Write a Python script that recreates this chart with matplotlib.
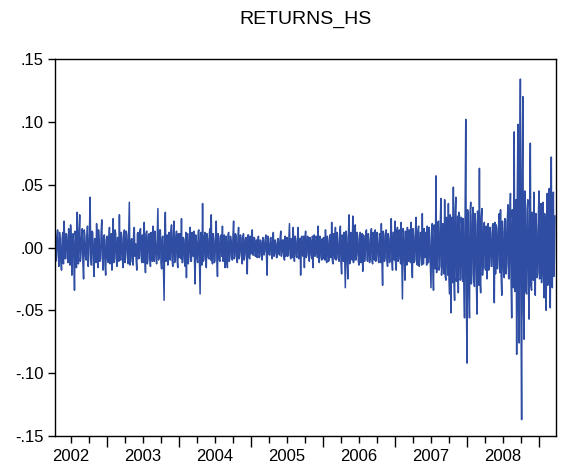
import numpy as np
import matplotlib
matplotlib.use("Agg")
import matplotlib.pyplot as plt
from matplotlib.ticker import FuncFormatter, FixedLocator
import matplotlib.transforms as mtransforms

plt.rcParams['font.family'] = ['Liberation Sans', 'DejaVu Sans']

TITLE = "RETURNS_HS"
YEAR_LABELS = ["2002", "2003", "2004", "2005", "2006", "2007", "2008"]

# returns in percent, read per year segment (first obs ~ Apr 2002, last ~ Mar 2009)
# "a" lists: the visible extremes; "b" lists: the in-between observations of the band
a2002 = [2.7, -0.8, 1.4, -1.5, 0.6, -1.8, 1.2, 2.1, -0.9, 1.0, -1.2, 0.4, 1.8, -2.2, 1.1, -3.4, 0.8, 2.8, -1.3, 2.6,
         -0.5, 1.5, -2.5, 0.9, -1.0, 1.7, -0.6, 4.0, -1.4, 1.2, -2.3, 0.7, 1.9, -1.6, 0.5, -0.9, 2.2, -1.8, 1.0, -2.2]
b2002 = [-1.1, 0.9, -0.5, 1.2, -1.0, 0.7, -1.3, 0.4, 1.1, -0.8, 1.5, -1.4, 0.6, 1.0, -0.9, 1.3, -1.6, 0.5, 1.2, -1.1,
         0.9, -1.3, 1.4, -0.7, 0.8, -1.5, 1.1, -0.6, 1.3, -1.0, 0.7, -1.2, 0.5, 1.4, -1.1, 1.2, -0.8, 0.9, -1.4, 0.6]
a2003 = [0.9, -1.2, 1.6, -0.7, -1.8, 2.3, -0.9, 1.1, -1.5, 0.6, 2.6, -1.0, 0.8, -1.6, 1.4, -0.5, 1.0, -1.3, 3.6, -1.1,
         0.7, -1.4, 1.6, 0.3, -1.8, 1.2, -0.8, 1.5, -1.2, 0.6, 2.0, -2.0, 1.3, -0.9, 1.1, -1.5, 0.8, 1.7, -1.1, 0.5,
         -1.3, 3.1, -0.8, 1.4, -1.7, 0.9, -4.2, 2.8, -0.6, -1.4, 1.2, -1.0, 1.8, -1.5, 2.1, -0.9, 1.3, -1.6]
b2003 = [-1.0, 0.7, -1.3, 1.1, 0.6, -1.2, 1.4, -0.9, 0.8, -1.1, -0.7, 1.2, -1.0, 0.9, -1.2, 1.3, -0.8, 1.0, -1.4, 0.6,
         -1.1, 1.2, -0.7, -1.0, 1.1, -0.9, 1.3, -0.6, 1.0, -1.2, -0.8, 1.1, -1.3, 1.0, -0.7, 1.2, -1.1, -0.6, 1.3, -0.9,
         1.1, -1.0, 1.4, -1.2, 0.8, -1.5, 1.2, -1.1, 1.0, 0.7, -0.9, 1.3, -1.0, 1.1, -1.2, 0.8, -1.0, 1.1]
a2004 = [-0.8, 1.0, 2.3, -1.2, 0.6, -1.5, -2.4, 1.1, -0.7, 1.6, -1.1, 0.8, 1.3, -2.9, 0.5, -1.2, 1.4, -3.7, 0.9, 3.5,
         -1.0, 1.2, -1.6, 0.7, -0.9, 1.5, 2.6, -1.3, 0.6, -1.0, 2.1, -2.3, 0.8, -1.1, 1.0, 1.7, -0.6, -1.6, 0.9, -1.6,
         1.2, -0.8, 0.5, -1.0, 2.1, -0.7, 0.9, -1.2, 1.6, -0.5, 0.7, -1.3, 1.1, -0.6, 0.8, -2.1, 1.0, -0.9]
b2004 = [1.1, -0.9, -1.2, 0.8, -1.0, 1.2, 1.0, -1.3, 0.9, -1.1, 1.2, -0.7, -1.1, 1.0, -0.8, 1.3, -1.0, 1.2, -1.4, -1.1,
         0.9, -1.0, 1.1, -0.8, 1.2, -1.0, -0.9, 1.1, -1.2, 1.0, -0.8, 1.1, -1.0, 0.9, -0.7, -1.1, 1.0, 0.8, -0.9, 1.0,
         -1.1, 0.9, -0.8, 1.0, -0.9, 1.1, -1.0, 0.8, -0.9, 1.0, -0.8, 0.9, -1.0, 0.7, -0.9, 1.0, -0.8, 0.9]
a2005 = [-0.5, 1.4, -0.6, 0.7, -0.4, -0.8, 0.9, -0.7, 0.5, -1.0, 0.6, -0.3, 1.0, -2.2, 0.4, -0.6, 0.8, -0.9, 1.2, -0.5,
         0.3, -0.8, 0.7, -0.6, 1.3, -0.4, 0.6, -1.0, -0.7, 0.8, -0.5, 1.9, -0.9, 0.4, 1.6, -1.1, 0.6, -0.8, 1.6, -0.4,
         -2.2, 0.9, -0.7, -1.6, 1.3, -0.6, 0.8, -1.1, 0.5, -0.9, -1.6, 1.0, -0.5, 0.7, 1.7, -1.2, 0.6, -1.0]
b2005 = [0.7, -0.6, 0.8, -0.7, 0.6, 0.5, -0.8, 0.6, -0.7, 0.8, -0.6, 0.7, -0.8, 0.9, -0.5, 0.7, -0.6, 0.8, -0.7, 0.6,
         -0.8, 0.7, -0.5, 0.8, -0.7, 0.6, -0.8, 0.9, 0.5, -0.7, 0.8, -0.6, 0.7, -0.8, -0.6, 0.9, -0.7, 0.8, -0.9, 0.7,
         0.8, -0.6, 0.9, 0.7, -0.8, 0.9, -0.7, 0.8, -0.6, 0.9, 0.8, -0.7, 0.9, -0.8, -0.7, 0.9, -0.8, 0.7]
a2006 = [-0.9, 0.6, 1.4, -1.2, 0.5, -0.8, 1.0, 2.0, -1.3, 0.7, 1.6, -0.9, 0.4, -1.1, 1.7, -2.1, 0.8, 1.2, -3.2, 0.9,
         -2.5, 2.6, -0.7, 1.1, 2.5, -1.0, 1.8, -0.6, 0.7, -1.4, 1.2, -0.8, -1.9, 0.9, -0.5, 1.4, -1.1, 0.6, -0.9, 1.5,
         -1.3, 0.8, 1.4, -0.7, 0.5, -1.2, 0.9, 1.9, -3.0, 1.0, -0.8, 1.4, -1.5, 0.7, -1.1, 2.3, -1.8, 1.2]
b2006 = [0.8, -1.0, -0.9, 0.9, -1.1, 1.0, -0.8, -1.0, 1.1, -0.9, -1.0, 1.2, -0.9, 1.1, -1.2, 1.0, -1.1, -1.0, 1.3, -1.2,
         1.1, -1.3, 1.2, -1.0, -1.2, 1.1, -1.0, 1.2, -1.1, 1.0, -1.2, 1.1, 1.0, -1.1, 1.2, -1.0, 1.1, -1.2, 1.0, -1.1,
         1.2, -1.0, -1.1, 1.2, -1.0, 1.1, -1.2, -1.0, 1.3, -1.1, 1.2, -1.0, 1.1, -1.2, 1.3, -1.1, 1.2, -1.0]
a2007 = [2.1, -1.8, 1.6, -0.9, 0.7, 2.0, -4.1, 1.2, -2.6, 0.8, 1.6, -1.1, 0.6, 2.0, -2.4, 0.9, -1.0, 2.4, -1.4, 1.7,
         -0.8, 1.1, 2.7, -1.3, -0.8, 0.9, 1.7, -1.2, 0.5, -3.2, 1.9, -3.4, 1.3, 5.7, -1.5, 2.1, -1.5, 3.9, -1.2, 0.8,
         3.8, -2.6, 1.4, 3.5, -3.7, -5.2, 2.2, 4.8, -4.2, 4.0, -1.9, -3.6, 2.5, -2.5, 1.2, 2.3, -5.6, 10.2]
b2007 = [-1.2, 1.3, -1.1, 1.4, -1.3, -1.2, 1.5, -1.0, 1.3, -1.4, -1.1, 1.4, -1.2, -1.3, 1.5, -1.2, 1.4, -1.1, 1.3, -1.5,
         1.2, -1.4, -1.3, 1.5, 1.2, -1.4, -1.2, 1.6, -1.5, 1.4, -1.6, 1.8, -1.7, -2.0, 1.9, -1.8, 2.0, -2.2, 1.9, -2.1,
         -2.3, 2.4, -2.2, -2.5, 2.6, 2.4, -2.8, -2.6, 2.9, -2.7, 2.5, 2.8, -2.6, 2.4, -2.7, -3.0, 3.2, -4.0]
a2008 = [-9.2, 2.4, -5.6, 3.6, -2.0, 3.2, -3.1, 1.8, -5.3, 2.2, 6.3, -3.6, 3.1, -1.4, 2.0, -1.8, -2.5, 1.9, -1.2, 1.1,
         -1.5, 1.9, -4.4, -2.1, 1.5, -1.0, 2.7, 3.0, -3.8, 1.2, -2.4, 2.2, -1.3, 3.4, -2.5, 4.3, -5.6, 2.0, 9.2, -2.9,
         -8.5, 9.8, -7.6, 13.4, -13.7, 12.0, -7.3, 3.5, -3.7, 3.8, -5.7, 8.3, -3.4, 2.2, 4.4, -3.8, 1.5, -2.0]
b2008 = [3.0, -3.2, 2.8, -2.9, 2.6, -2.5, 2.7, -2.4, 2.9, -3.0, -2.5, 2.4, -2.2, 1.8, -1.6, 1.7, 1.5, -1.8, 1.6, -1.5,
         1.7, -1.9, 2.0, 1.8, -1.7, 1.9, -2.0, -2.2, 2.1, -1.9, 2.3, -2.1, 2.2, -2.4, 2.5, -2.6, 3.0, -3.2, -3.5, 3.8,
         4.0, -4.5, 5.0, -5.5, 6.0, -5.0, 4.5, -3.5, 3.0, -3.2, 3.3, -3.0, 2.8, -2.6, -2.5, 2.7, -2.4, 2.6]
a2009 = [4.5, -2.4, 3.5, -1.5, 3.6, -4.0, 1.2, -5.0, 4.3, -2.2, 4.7, -4.8, 7.2, -3.2, 4.4, -1.0]
b2009 = [-2.5, 2.2, -2.8, 2.5, -2.0, 2.7, -2.6, 2.4, -3.0, 2.8, -2.5, 3.0, -2.7, 2.6, -2.3, 2.5]

segments = [(2002.278, 2003.0, a2002, b2002), (2003.0, 2004.0, a2003, b2003), (2004.0, 2005.0, a2004, b2004),
            (2005.0, 2006.0, a2005, b2005), (2006.0, 2007.0, a2006, b2006), (2007.0, 2008.0, a2007, b2007),
            (2008.0, 2009.0, a2008, b2008), (2009.0, 2009.228, a2009, b2009)]

xs, ys = [], []
for start, end, va, vb in segments:
    vals = np.column_stack((va, vb)).ravel()
    xs.append(np.linspace(start, end, len(vals), endpoint=False))
    ys.append(vals / 100.0)
x = np.concatenate(xs)
y = np.concatenate(ys)

W, H = 564, 467
fig = plt.figure(figsize=(W / 100, H / 100), dpi=100)
ax = fig.add_axes([55 / W, 1 - 436 / H, (556 - 55) / W, (436 - 59) / H])
ax.plot(x, y, color='#2F4EA3', lw=1.1)

ax.set_xlim(2002.278, 2009.236)
ax.set_ylim(-0.15, 0.15)
ax.set_yticks([-0.15, -0.10, -0.05, 0.0, 0.05, 0.10, 0.15])
ax.yaxis.set_major_formatter(FuncFormatter(lambda v, p: f"{v:.2f}".replace("0.", ".", 1)))

years = np.arange(2003, 2010)
ax.xaxis.set_major_locator(FixedLocator(years))
ax.xaxis.set_minor_locator(FixedLocator([q for yr in range(2002, 2010) for q in (yr + 0.25, yr + 0.5, yr + 0.75)]))
ax.set_xticklabels([])
ax.tick_params(axis='x', which='major', length=8, width=1, direction='out')
ax.tick_params(axis='x', which='minor', length=5, width=1, direction='out')
ax.tick_params(axis='y', length=5, width=1, direction='out', labelsize=12, pad=3)

trans = mtransforms.blended_transform_factory(ax.transData, ax.transAxes)
for i, lab in enumerate(YEAR_LABELS):
    ax.text(2002.5 + i, -0.035, lab, transform=trans, ha='center', va='top', fontsize=12)

for s in ax.spines.values():
    s.set_linewidth(1.0)
    s.set_color('black')

fig.text((55 + 556) / 2 / W, 1 - 19 / H, TITLE, ha='center', va='center', fontsize=14)

fig.savefig("out.png", dpi=100)
